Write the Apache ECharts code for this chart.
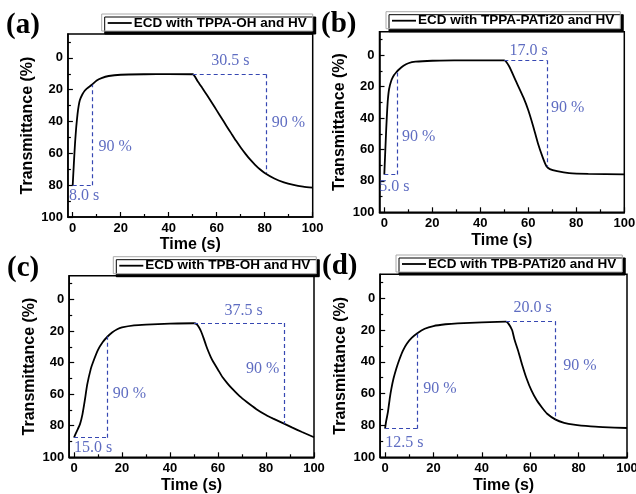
<!DOCTYPE html>
<html><head><meta charset="utf-8">
<script src="https://cdn.jsdelivr.net/npm/echarts@6/dist/echarts.min.js"></script>
<style>html,body{margin:0;padding:0;background:#fff}#c{width:636px;height:494px}</style>
</head><body><div id="c"></div>
<script>
// ---- data ----
const timeA  = [0,0.5,1,1.5,2,2.5,3,4,5,6,8,10,12,15,20,30,40,50,52,54,56,58,60,62,64,66,68,70,72,74,76,78,80,84,88,92,96,100];
const transA = [80,66,53,43,35.5,30,26.5,23,20.7,19.2,16.9,14.2,12.7,11.4,10.6,10.3,10.2,10.3,14.5,19,23.5,28.2,33,37.8,42.6,47.3,52,56.3,60.3,64,67.2,70,72.3,75.8,78.2,79.8,80.9,81.6];

const timeB  = [0,0.3,0.8,1.2,1.5,2,3,4,5,6,8,10,13,20,30,40,50,52,55,58,60,62,64,66,67.5,69,72,77,85,100];
const transB = [76,65,47,35,28,21.5,15.8,12.7,10.8,9.2,6.7,5.1,4.1,3.5,3.3,3.2,3.2,7,17,27,35,45,56,65,70.5,72.5,73.8,75,75.5,75.8];

const timeC  = [0,1,2.5,3.5,4.5,5.5,7,8,10,12,14,16,18,20,25,30,40,50,51,52,53,54,55,56,57,58,60,62,64,66,69,72,76,80,83,87.5,91,95,100];
const transC = [87.5,84,79,73,64,54,44,39.5,32,27,23.5,20.8,18.9,17.8,16.5,16,15.4,15.1,15.6,17.5,20.5,24.5,29,33,36.5,39.5,44.5,49.5,53.3,56.7,61.3,65,69.5,73.2,75.5,78.7,81.2,84,87.3];

const timeD  = [0,0.5,1.2,2,2.6,3.5,4.7,6,7.4,9,11,13.2,16.4,20,25,30,40,50,51,52.5,53.5,55,56.5,58.5,60.5,62.7,65,67,70.5,74,78,85,90,100];
const transD = [82,77,71.5,62.5,57,50.5,44,38.2,32.9,28.6,25,22.2,19.2,17.5,16.4,15.8,15.2,14.8,16,20,26,33,41,50.5,58,64.2,69,72.6,76.3,78.3,79.5,80.6,81,81.6];

const seriesNames = ['ECD with TPPA-OH and HV','ECD with TPPA-PATi20 and HV','ECD with TPB-OH and HV','ECD with TPB-PATi20 and HV'];
const panelLabels = ['(a)','(b)','(c)','(d)'];

const xMajorTicks = [0,20,40,60,80,100];
const xMinorTicks = [10,30,50,70,90];
const yMajorTicks = [0,20,40,60,80,100];
const yMinorTicks = [-10,10,30,50,70,90];

// response-time annotation values
const riseEnd     = [8.3, 5.3, 14.0, 13.2];
const riseLow     = [80, 76, 87.6, 82];
const riseHigh    = [16.9, 11, 23.5, 22.2];
const bleachStart = [50, 50, 50, 50];
const bleachEnd   = [80.5, 67.7, 87.5, 70.5];
const bleachTop   = [10.3, 3.2, 15, 14.5];
const bleachLow   = [72.3, 70.9, 78.7, 76.3];
const riseText    = ['8.0 s','5.0 s','15.0 s','12.5 s'];
const bleachText  = ['30.5 s','17.0 s','37.5 s','20.0 s'];
const percentText = '90 %';

const times = [timeA,timeB,timeC,timeD];
const trans = [transA,transB,transC,transD];

// ---- layout ----
const grids = [
  {left:67.9, top:34,    width:244.8, height:183},
  {left:379.5,top:31.7,  width:244.8, height:180.6},
  {left:69.2, top:275.7, width:244.8, height:181.6},
  {left:380.2,top:274.3, width:246.8, height:183}
];
const legendPos = [{left:101.7,top:14},{left:386,top:11.7},{left:113.3,top:256.7},{left:396,top:255}];
const titlePos = [{left:6,top:11},{left:321,top:10},{left:7,top:254},{left:322,top:252.5}];
// annotation text anchors [x, y, align]
const annoPos = [
  [[-1.5,86.5,'left'],[10.7,55.8,'left'],[65.7,2.1,'center'],[82.9,40.7,'left']],
  [[-2.1,83.6,'left'],[7.4,51.7,'left'],[60.1,-2.6,'center'],[69.5,33.6,'left']],
  [[0,93.9,'left'],[16.1,59.9,'left'],[70.7,7.2,'center'],[85.6,43.7,'right']],
  [[0.1,91.2,'left'],[15.8,57,'left'],[61,5.9,'center'],[73.7,42.6,'left']]
];

const SANS = 'Liberation Sans';
const SERIF = 'Liberation Serif';
const BLUE = '#3647b2';

const option = {
  animation:false,
  backgroundColor:'#fff',
  title: panelLabels.map((t,i)=>({text:t, left:titlePos[i].left, top:titlePos[i].top, padding:0,
    textStyle:{fontFamily:SERIF,fontWeight:'bold',fontSize:29,color:'#000'}})),
  grid: grids.map(g=>Object.assign({show:true,borderColor:'#000',borderWidth:1.5,backgroundColor:'transparent',outerBoundsMode:'none'},g)),
  legend: seriesNames.map((n,i)=>({data:[n], left:legendPos[i].left, top:legendPos[i].top,
    orient:'horizontal', icon:'rect', itemWidth:24, itemHeight:1.8, itemGap:0, padding:[2,6,1,6],
    itemStyle:{color:'#000',borderWidth:0},
    backgroundColor:'#fff', borderColor:'#aaa', borderWidth:1,
    shadowColor:'#000', shadowBlur:0.5, shadowOffsetX:3, shadowOffsetY:3,
    textStyle:{fontFamily:SANS,fontWeight:'bold',fontSize:13.5,color:'#000',padding:[0,0,0,-3]}})),
  xAxis: [], yAxis: [], series: []
};

for (let i=0;i<4;i++){
  option.xAxis.push({type:'value', gridIndex:i, min:-2, max:100, position:'bottom',
    name:'Time (s)', nameLocation:'middle', nameGap:20,
    nameTextStyle:{fontFamily:SANS,fontWeight:'bold',fontSize:16,color:'#000'},
    axisLine:{show:true,onZero:false,lineStyle:{color:'#000',width:1.5}},
    axisTick:{show:true,inside:true,length:5,customValues:xMajorTicks,lineStyle:{color:'#000',width:1.2}},
    axisLabel:{customValues:xMajorTicks,margin:5,fontFamily:SANS,fontWeight:'bold',fontSize:13,color:'#000'},
    splitLine:{show:false}});
  option.yAxis.push({type:'value', gridIndex:i, min:-15, max:100, inverse:true, position:'left',
    name:'Transmittance (%)', nameLocation:'middle', nameGap:32,
    nameTextStyle:{fontFamily:SANS,fontWeight:'bold',fontSize:16,color:'#000'},
    axisLine:{show:true,onZero:false,lineStyle:{color:'#000',width:1.5}},
    axisTick:{show:true,inside:true,length:5,customValues:yMajorTicks,lineStyle:{color:'#000',width:1.2}},
    axisLabel:{customValues:yMajorTicks,margin:5,fontFamily:SANS,fontWeight:'bold',fontSize:13,color:'#000'},
    splitLine:{show:false}});
}
// minor tick axes
for (let i=0;i<4;i++){
  option.xAxis.push({type:'value', gridIndex:i, min:-2, max:100, position:'bottom',
    axisLine:{show:false,onZero:false}, axisLabel:{show:false}, splitLine:{show:false},
    axisTick:{show:true,inside:true,length:3,customValues:xMinorTicks,lineStyle:{color:'#000',width:1.2}}});
  option.yAxis.push({type:'value', gridIndex:i, min:-15, max:100, inverse:true, position:'left',
    axisLine:{show:false,onZero:false}, axisLabel:{show:false}, splitLine:{show:false},
    axisTick:{show:true,inside:true,length:3,customValues:yMinorTicks,lineStyle:{color:'#000',width:1.2}}});
}

for (let i=0;i<4;i++){
  const d = times[i].map((t,k)=>[t, trans[i][k]]);
  option.series.push({type:'line', name:seriesNames[i], xAxisIndex:i, yAxisIndex:i,
    data:d, symbol:'none', smooth:0.2,
    lineStyle:{color:'#000',width:1.8}, itemStyle:{color:'#000'}, z:3,
    markLine:{silent:true, symbol:'none', label:{show:false},
      lineStyle:{color:BLUE,type:[4,3],width:1.2},
      data:[
        [{coord:[0,riseLow[i]]},{coord:[riseEnd[i],riseLow[i]]}],
        [{coord:[riseEnd[i],riseLow[i]]},{coord:[riseEnd[i],riseHigh[i]]}],
        [{coord:[bleachStart[i],bleachTop[i]]},{coord:[bleachEnd[i],bleachTop[i]]}],
        [{coord:[bleachEnd[i],bleachTop[i]]},{coord:[bleachEnd[i],bleachLow[i]]}]
      ]}});
  const texts = [riseText[i], percentText, bleachText[i], percentText];
  option.series.push({type:'scatter', name:'anno'+i, xAxisIndex:i, yAxisIndex:i,
    symbolSize:0, silent:true, clip:false, z:4,
    data: annoPos[i].map((p,k)=>({value:[p[0],p[1]], name:texts[k],
      label:{show:true, position:[0,0], align:p[2], verticalAlign:'middle', formatter:texts[k],
        fontFamily:SERIF, fontSize:16, color:BLUE}}))});
}

const chart = echarts.init(document.getElementById('c'), null, {renderer:'canvas'});
chart.setOption(option);
</script></body></html>
